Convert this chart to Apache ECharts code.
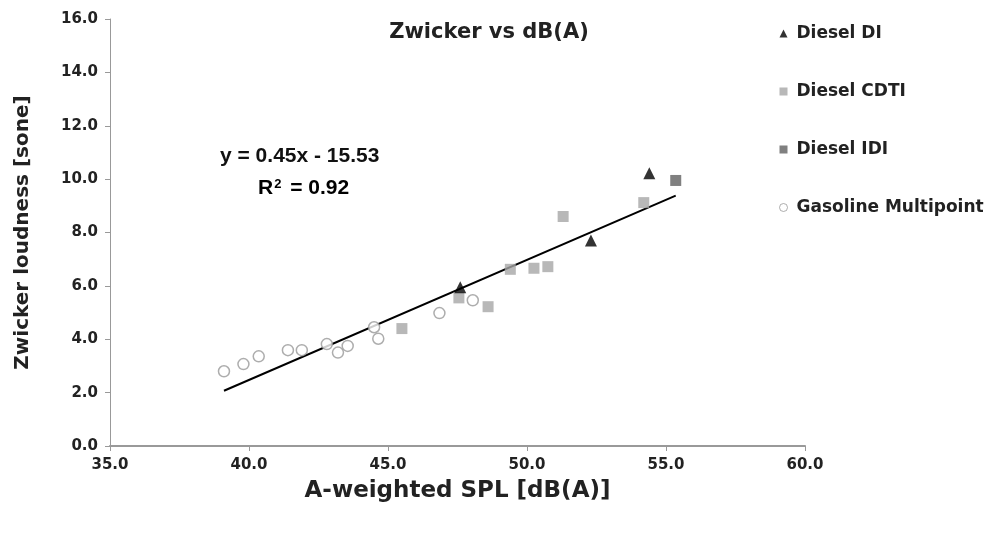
<!DOCTYPE html>
<html><head><meta charset="utf-8">
<script src="https://cdn.jsdelivr.net/npm/echarts@6/dist/echarts.min.js"></script>
<style>html,body{margin:0;padding:0;background:#fff}#c{width:990px;height:533px}</style>
</head><body><div id="c"></div>
<script>
const seriesNames = ["Diesel DI", "Diesel CDTI", "Diesel IDI", "Gasoline Multipoint"];
const dieselDI = [[47.6, 5.95], [52.3, 7.70], [54.4, 10.22]];
const dieselCDTI = [[45.5, 4.4], [47.55, 5.55], [48.6, 5.22], [49.4, 6.62], [50.25, 6.66], [50.75, 6.72], [51.3, 8.6], [54.2, 9.12]];
const dieselIDI = [[55.35, 9.95]];
const gasoline = [[39.1, 2.8], [39.8, 3.07], [40.35, 3.36], [41.4, 3.59], [41.9, 3.59], [42.8, 3.82], [43.2, 3.5], [43.55, 3.75], [44.5, 4.45], [44.65, 4.02], [46.85, 4.98], [48.05, 5.46]];
const trendLine = [[39.1, 2.07], [55.35, 9.38]];
const xTicks = {min: 35, max: 60, interval: 5};
const yTicks = {min: 0, max: 16, interval: 2};

const FONT = '"DejaVu Sans", sans-serif';
const FONT2 = '"Liberation Sans", Arial, sans-serif';
const TXT = '#222';
const chart = echarts.init(document.getElementById('c'), null, {renderer: 'canvas'});
chart.setOption({
  animation: false,
  backgroundColor: '#fff',
  title: {
    text: 'Zwicker vs dB(A)', left: 484, top: 17, textAlign: 'center',
    textStyle: {fontFamily: FONT, fontSize: 21, fontWeight: 'bold', color: TXT}
  },
  legend: {
    data: [
      {name: seriesNames[0], icon: 'triangle', itemStyle: {color: '#000'}},
      {name: seriesNames[1], icon: 'rect', itemStyle: {color: '#a6a6a6'}},
      {name: seriesNames[2], icon: 'rect', itemStyle: {color: '#606060'}},
      {name: seriesNames[3], icon: 'circle', itemStyle: {color: '#fff', borderColor: '#999', borderWidth: 1}}
    ],
    orient: 'vertical', left: 774, top: 20, itemGap: 41, itemWidth: 8, itemHeight: 8,
    textStyle: {fontFamily: FONT, fontSize: 17, fontWeight: 'bold', color: TXT, padding: [0, 0, 0, 4]}
  },
  grid: {left: 110, right: 185, top: 19, bottom: 87},
  xAxis: {
    type: 'value', min: xTicks.min, max: xTicks.max, interval: xTicks.interval,
    name: 'A-weighted SPL [dB(A)]', nameLocation: 'middle', nameGap: 34,
    nameTextStyle: {fontFamily: FONT, fontSize: 23, fontWeight: 'bold', color: TXT},
    axisLine: {lineStyle: {color: '#999', width: 2}},
    axisTick: {lineStyle: {color: '#999'}, length: 5},
    axisLabel: {fontFamily: FONT, fontSize: 15, fontWeight: 'bold', color: TXT, margin: 12, formatter: v => v.toFixed(1)},
    splitLine: {show: false}
  },
  yAxis: {
    type: 'value', min: yTicks.min, max: yTicks.max, interval: yTicks.interval,
    name: 'Zwicker loudness [sone]', nameLocation: 'middle', nameGap: 77,
    nameTextStyle: {fontFamily: FONT, fontSize: 20, fontWeight: 'bold', color: TXT},
    axisLine: {show: true, lineStyle: {color: '#999', width: 1}},
    axisTick: {show: true, lineStyle: {color: '#999'}, length: 5},
    axisLabel: {fontFamily: FONT, fontSize: 15, fontWeight: 'bold', color: TXT, margin: 12, formatter: v => v.toFixed(1)},
    splitLine: {show: false}
  },
  graphic: [
    {type: 'text', left: 220, top: 146, style: {text: 'y = 0.45x - 15.53', font: 'bold 21px ' + FONT2, fill: '#111'}},
    {type: 'text', left: 258, top: 178, style: {
      text: '{a|R}{s|2}{a| = 0.92}',
      rich: {a: {fontFamily: FONT2, fontSize: 21, fontWeight: 'bold', color: '#111'}, s: {fontFamily: FONT2, fontSize: 13, fontWeight: 'bold', color: '#111', verticalAlign: 'top', padding: [0, 3, 8, 1]}}
    }}
  ],
  series: [
    {name: 'Trend', type: 'line', data: trendLine, symbol: 'none', lineStyle: {color: '#000', width: 2}, z: 1, silent: true},
    {name: seriesNames[3], type: 'scatter', data: gasoline, symbol: 'circle', symbolSize: 11,
      itemStyle: {color: '#fff', borderColor: '#999', borderWidth: 1.5}, z: 3},
    {name: seriesNames[1], type: 'scatter', data: dieselCDTI, symbol: 'rect', symbolSize: 11,
      itemStyle: {color: '#a6a6a6'}, z: 3},
    {name: seriesNames[2], type: 'scatter', data: dieselIDI, symbol: 'rect', symbolSize: 11,
      itemStyle: {color: '#606060'}, z: 3},
    {name: seriesNames[0], type: 'scatter', data: dieselDI, symbol: 'triangle', symbolSize: 12,
      itemStyle: {color: '#000'}, z: 4}
  ]
});
</script></body></html>
